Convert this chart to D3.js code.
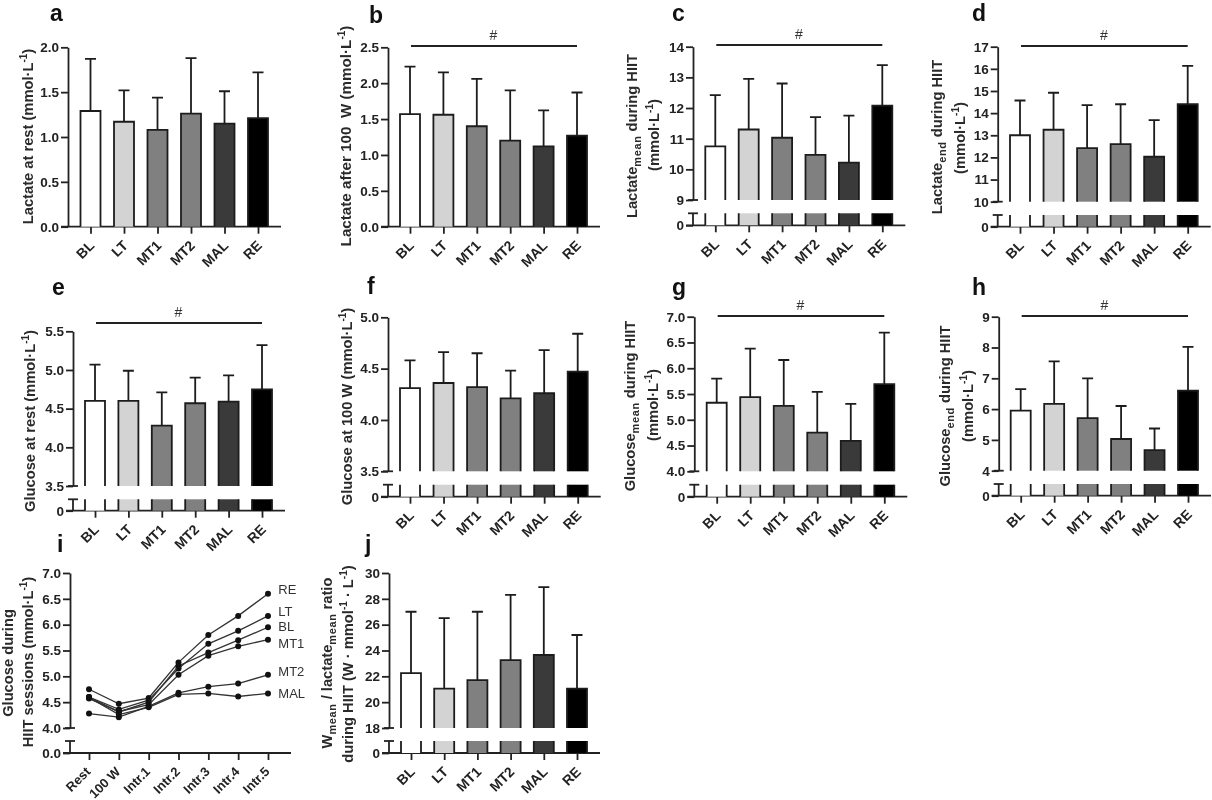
<!DOCTYPE html>
<html>
<head>
<meta charset="utf-8">
<script src="https://cdn.jsdelivr.net/npm/d3@7"></script>
<style>
    body { margin: 0; background: #fff; }
    svg { display: block; filter: blur(0.35px); }
    text { font-family: "Liberation Sans", Arial, sans-serif; fill: #222; }
    .tick text { font-weight: bold; font-size: 13.5px; }
    .xlabels .tick text { font-size: 14px; }
    .xlabels.small .tick text { font-size: 13px; }
    .ytitle { font-weight: bold; font-size: 14.7px; fill: #2a2a2a; }
    .letter { font-weight: bold; font-size: 23px; fill: #111; }
    .hash { font-size: 14px; fill: #333; }
    .endlabel { font-size: 13px; fill: #333; }
</style>
</head>
<body>
<div id="chart"></div>
<script>
var groups = ['BL', 'LT', 'MT1', 'MT2', 'MAL', 'RE'];
var fills = ['#ffffff', '#d3d3d3', '#808080', '#808080', '#3a3a3a', '#000000'];
var stages = ['Rest', '100 W', 'Intr.1', 'Intr.2', 'Intr.3', 'Intr.4', 'Intr.5'];

// bar heights and top of the error bars
var lactateRestMean = [1.29, 1.17, 1.08, 1.26, 1.15, 1.21];
var lactateRestTop = [1.87, 1.52, 1.44, 1.88, 1.51, 1.72];
var lactate100Mean = [1.57, 1.56, 1.40, 1.20, 1.12, 1.27];
var lactate100Top = [2.23, 2.15, 2.06, 1.90, 1.62, 1.87];
var lactateHiitMean = [10.75, 11.30, 11.03, 10.47, 10.22, 12.08];
var lactateHiitTop = [12.42, 12.95, 12.80, 11.70, 11.75, 13.40];
var lactateEndMean = [13.00, 13.25, 12.42, 12.60, 12.03, 14.40];
var lactateEndTop = [14.57, 14.92, 14.36, 14.40, 13.68, 16.13];
var glucoseRestMean = [4.60, 4.60, 4.28, 4.57, 4.59, 4.75];
var glucoseRestTop = [5.07, 4.99, 4.71, 4.90, 4.93, 5.32];
var glucose100Mean = [4.31, 4.36, 4.32, 4.21, 4.26, 4.47];
var glucose100Top = [4.58, 4.66, 4.65, 4.48, 4.68, 4.84];
var glucoseHiitMean = [5.33, 5.44, 5.27, 4.75, 4.59, 5.69];
var glucoseHiitTop = [5.80, 6.38, 6.16, 5.54, 5.31, 6.69];
var glucoseEndMean = [5.95, 6.17, 5.71, 5.03, 4.67, 6.60];
var glucoseEndTop = [6.65, 7.55, 7.00, 6.10, 5.37, 8.02];
var ratioMean = [22.25, 21.05, 21.70, 23.25, 23.65, 21.05];
var ratioTop = [27.0, 26.5, 27.0, 28.3, 28.9, 25.2];

// glucose time courses for panel i
var courseRE = [4.75, 4.47, 4.58, 5.27, 5.80, 6.17, 6.60];
var courseLT = [4.60, 4.36, 4.54, 5.15, 5.63, 5.88, 6.17];
var courseBL = [4.60, 4.31, 4.50, 5.20, 5.46, 5.70, 5.95];
var courseMT1 = [4.57, 4.32, 4.45, 5.03, 5.40, 5.58, 5.71];
var courseMT2 = [4.28, 4.21, 4.42, 4.68, 4.80, 4.86, 5.03];
var courseMAL = [4.59, 4.26, 4.40, 4.65, 4.67, 4.61, 4.67];

var svg = d3.select('#chart').append('svg').attr('width', 1212).attr('height', 800);

function drawTitle(x, yMid, parts, size) {
    var t = svg.append('text').attr('class', 'ytitle')
        .attr('text-anchor', 'middle')
        .attr('transform', `translate(${x},${yMid}) rotate(-90)`);
    if (size) t.style('font-size', size + 'px');
    parts.forEach(function (p) {
        var s = t.append('tspan').text(p[0]);
        if (p[1] == 'sub') s.attr('dy', 4).style('font-size', '11px').style('letter-spacing', '0.6px');
        if (p[1] == 'sup') s.attr('dy', -6).style('font-size', '10px');
        if (p[1] == 'back') s.attr('dy', p[2]);
    });
}

function drawAxes(p, cats) {
    // upper part of the y axis, lower stub when the axis is broken
    var yUp = d3.scaleLinear().domain(p.domain).range([p.yBot, p.yTop]);
    var yAxis = d3.axisLeft(yUp).tickValues(p.ticks).tickSize(7).tickSizeOuter(0)
        .tickPadding(2).tickFormat(d3.format(p.fmt));
    svg.append('g').attr('transform', `translate(${p.x},0)`).call(yAxis);
    var gx = svg.append('g').attr('class', 'xlabels' + (p.smallLabels ? ' small' : ''))
        .attr('transform', `translate(0,${p.y0})`);
    var x = d3.scalePoint().domain(cats).range([p.first, p.last]);
    gx.call(d3.axisBottom(x).tickSize(7).tickSizeOuter(0));
    gx.select('.domain').remove();
    gx.selectAll('.tick text')
        .attr('text-anchor', 'end')
        .attr('dx', 3).attr('dy', 4)
        .attr('transform', p.labelShift || 'rotate(-45) translate(-14,3)');
    var yLow = null;
    if (p.broken) {
        yLow = d3.scaleLinear().domain([0, p.stub]).range([p.y0, p.yLow]);
        svg.append('line').attr('x1', p.x).attr('x2', p.x).attr('y1', yLow(0)).attr('y2', yLow(p.stub));
        [yUp(p.domain[0]), yLow(p.stub)].forEach(function (yy) {
            svg.append('line').attr('x1', p.x - 5).attr('x2', p.x + 5).attr('y1', yy).attr('y2', yy);
        });
        var g0 = svg.append('g').attr('transform', `translate(${p.x},0)`)
            .call(d3.axisLeft(yLow).tickValues([0]).tickSize(7).tickPadding(2).tickFormat(d3.format(p.zeroFmt || 'd')));
        g0.select('.domain').remove();
    }
    svg.append('line').attr('x1', p.x - 7).attr('x2', p.last + 23).attr('y1', p.y0).attr('y2', p.y0);
    svg.selectAll('g .domain, g .tick line, line').attr('stroke', '#222').attr('stroke-width', 1.8);
    return { x: x, yUp: yUp, yLow: yLow };
}

function drawBars(p) {
    var s = drawAxes(p, groups);
    var w = 20;
    var ink = '#1c1c1c';
    groups.forEach(function (g, i) {
        var cx = s.x(g);
        var l = cx - w / 2;
        var yMean = s.yUp(p.mean[i]);
        var yFoot = s.yUp(p.domain[0]);
        svg.append('rect').attr('x', l).attr('y', yMean).attr('width', w).attr('height', yFoot - yMean).attr('fill', fills[i]);
        svg.append('path').attr('fill', 'none').attr('stroke', ink).attr('stroke-width', 1.8)
            .attr('d', `M${l},${yFoot}V${yMean}H${l + w}V${yFoot}`);
        if (p.broken) {
            var top = s.yLow(p.stub);
            svg.append('rect').attr('x', l).attr('y', top).attr('width', w).attr('height', p.y0 - top).attr('fill', fills[i]);
            svg.append('path').attr('fill', 'none').attr('stroke', ink).attr('stroke-width', 1.8)
                .attr('d', `M${l},${top}V${p.y0}M${l + w},${top}V${p.y0}`);
        }
        var yErr = s.yUp(p.top[i]);
        svg.append('path').attr('fill', 'none').attr('stroke', ink).attr('stroke-width', 1.8)
            .attr('d', `M${cx},${yMean}V${yErr}M${cx - 5.5},${yErr}H${cx + 5.5}`);
    });
    if (p.hashY) {
        svg.append('line').attr('x1', p.first + 1).attr('x2', p.last).attr('y1', p.hashY).attr('y2', p.hashY)
            .attr('stroke', '#222').attr('stroke-width', 1.5);
        svg.append('text').attr('class', 'hash').attr('text-anchor', 'middle')
            .attr('x', (p.first + p.last) / 2).attr('y', p.hashY - 6).text('#');
    }
}

var sub = function (s) { return [s, 'sub']; };
var sup1 = ['-1', 'sup'];

var barPanels = [
    { x: 68, first: 90.5, last: 258, y0: 226.7, yTop: 47.3, yBot: 226.7, domain: [0, 2], ticks: [0, 0.5, 1, 1.5, 2], fmt: '.1f', mean: lactateRestMean, top: lactateRestTop },
    { x: 388, first: 410, last: 577, y0: 226.7, yTop: 47.3, yBot: 226.7, domain: [0, 2.5], ticks: [0, 0.5, 1, 1.5, 2, 2.5], fmt: '.1f', mean: lactate100Mean, top: lactate100Top, hashY: 46 },
    { x: 693, first: 715.3, last: 882.3, y0: 225.3, yTop: 46.7, yBot: 200, yLow: 213.3, stub: 1, broken: true, domain: [9, 14], ticks: [9, 10, 11, 12, 13, 14], fmt: 'd', mean: lactateHiitMean, top: lactateHiitTop, hashY: 45 },
    { x: 997.7, first: 1020, last: 1187.7, y0: 226.7, yTop: 46.7, yBot: 201.7, yLow: 215, stub: 1, broken: true, domain: [10, 17], ticks: [10, 11, 12, 13, 14, 15, 16, 17], fmt: 'd', mean: lactateEndMean, top: lactateEndTop, hashY: 46 },
    { x: 73, first: 95, last: 262, y0: 510.7, yTop: 331.3, yBot: 486, yLow: 499.3, stub: 1, broken: true, domain: [3.5, 5.5], ticks: [3.5, 4, 4.5, 5, 5.5], fmt: '.1f', mean: glucoseRestMean, top: glucoseRestTop, hashY: 323 },
    { x: 388, first: 410, last: 577.7, y0: 496.7, yTop: 317.3, yBot: 471.3, yLow: 484.7, stub: 1, broken: true, domain: [3.5, 5], ticks: [3.5, 4, 4.5, 5], fmt: '.1f', mean: glucose100Mean, top: glucose100Top },
    { x: 694.3, first: 716.7, last: 884.3, y0: 496.7, yTop: 316.7, yBot: 471.3, yLow: 484.7, stub: 1, broken: true, domain: [4, 7], ticks: [4, 4.5, 5, 5.5, 6, 6.5, 7], fmt: '.1f', mean: glucoseHiitMean, top: glucoseHiitTop, hashY: 316 },
    { x: 998.7, first: 1020.7, last: 1188, y0: 495.7, yTop: 316.7, yBot: 470.7, yLow: 484, stub: 1, broken: true, domain: [4, 9], ticks: [4, 5, 6, 7, 8, 9], fmt: 'd', mean: glucoseEndMean, top: glucoseEndTop, hashY: 316 },
    { x: 389, first: 411, last: 577, y0: 753, yTop: 573, yBot: 728, yLow: 741, stub: 1, broken: true, domain: [18, 30], ticks: [18, 20, 22, 24, 26, 28, 30], fmt: 'd', mean: ratioMean, top: ratioTop }
];
barPanels.forEach(drawBars);

// panel i is the only line chart, its long labels need to stay inside the page
var lineP = { x: 70, first: 89, last: 268, y0: 753, yTop: 573, yBot: 728, yLow: 741, stub: 1, broken: true, domain: [4, 7], ticks: [4, 4.5, 5, 5.5, 6, 6.5, 7], fmt: '.1f', zeroFmt: '.1f', smallLabels: true, labelShift: 'rotate(-45) translate(-15.5,1)' };
var lineScales = drawAxes(lineP, stages);
var courses = [courseRE, courseLT, courseBL, courseMT1, courseMT2, courseMAL];
var courseNames = ['RE', 'LT', 'BL', 'MT1', 'MT2', 'MAL'];
var nameY = [594, 616, 631, 648, 676, 698];
var line = d3.line().x((d, i) => lineScales.x(stages[i])).y(d => lineScales.yUp(d));
courses.forEach(function (c, k) {
    svg.append('path').attr('d', line(c)).attr('fill', 'none').attr('stroke', '#333').attr('stroke-width', 1.3);
    svg.selectAll(null).data(c).enter().append('circle')
        .attr('cx', (d, i) => lineScales.x(stages[i]))
        .attr('cy', d => lineScales.yUp(d))
        .attr('r', 3).attr('fill', '#111');
    svg.append('text').attr('class', 'endlabel').attr('x', 278.3).attr('y', nameY[k]).text(courseNames[k]);
});

drawTitle(33, 136.5, [['Lactate at rest (mmol·L'], sup1, [')', 'back', 6]]);
drawTitle(351, 136, [['Lactate after 100\u00a0 W (mmol·L'], sup1, [')', 'back', 6]], 15.2);
drawTitle(637, 136, [['Lactate'], sub('mean'), [' during HIIT', 'back', -4]]);
drawTitle(659, 135, [['(mmol·L'], sup1, [')', 'back', 6]]);
drawTitle(942, 137, [['Lactate'], sub('end'), [' during HIIT', 'back', -4]]);
drawTitle(965, 138, [['(mmol·L'], sup1, [')', 'back', 6]]);
drawTitle(35, 421, [['Glucose at rest (mmol·L'], sup1, [')', 'back', 6]]);
drawTitle(352, 406.5, [['Glucose at 100 W (mmol·L'], sup1, [')', 'back', 6]]);
drawTitle(635, 406, [['Glucose'], sub('mean'), [' during HIIT', 'back', -4]]);
drawTitle(658, 405, [['(mmol·L'], sup1, [')', 'back', 6]]);
drawTitle(950, 406, [['Glucose'], sub('end'), [' during HIIT', 'back', -4]]);
drawTitle(973, 406, [['(mmol·L'], sup1, [')', 'back', 6]]);
drawTitle(13, 663, [['Glucose during']]);
drawTitle(33, 662, [['HIIT sessions (mmol·L'], sup1, [')', 'back', 6]]);
drawTitle(332, 663, [['W'], sub('mean'), [' / lactate', 'back', -4], sub('mean'), [' ratio', 'back', -4]]);
drawTitle(353, 664, [['during HIIT (W · mmol'], sup1, [' · L', 'back', 6], sup1, [')', 'back', 6]]);

var letters = ['a', 'b', 'c', 'd', 'e', 'f', 'g', 'h', 'i', 'j'];
var letterX = [50, 369, 672, 972, 52, 367, 672, 972, 57, 365];
var letterY = [21, 22.5, 21, 21, 295, 294, 295, 295, 552, 552];
letters.forEach(function (l, i) {
    svg.append('text').attr('class', 'letter').attr('x', letterX[i]).attr('y', letterY[i]).text(l);
});
</script>
</body>
</html>
